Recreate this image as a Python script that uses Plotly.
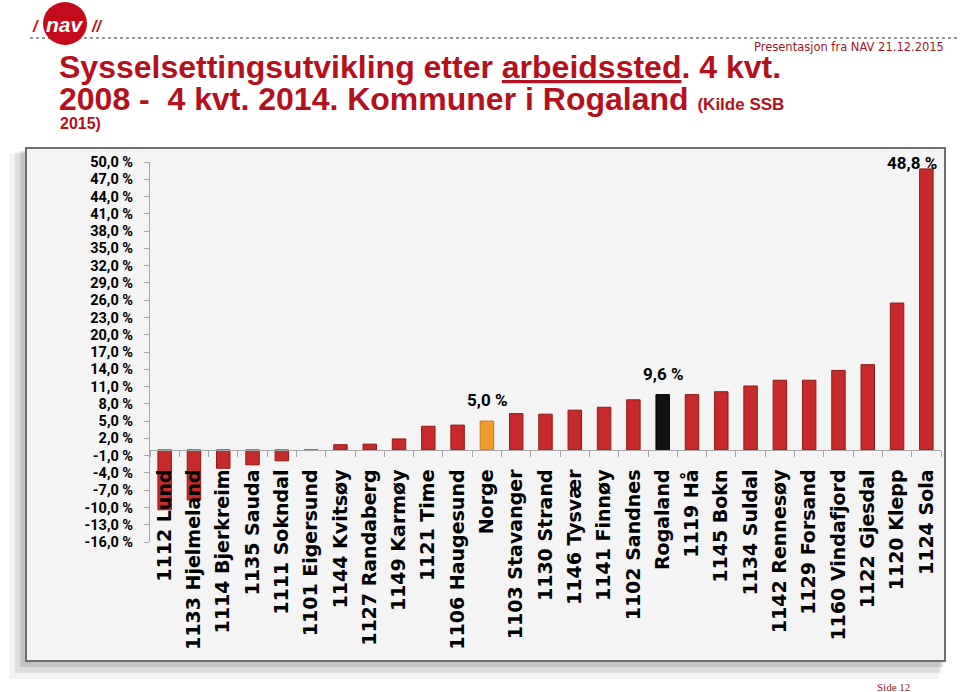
import plotly.graph_objects as go

# ---------------- data ----------------
categories = [
    "1112 Lund", "1133 Hjelmeland", "1114 Bjerkreim", "1135 Sauda", "1111 Sokndal",
    "1101 Eigersund", "1144 Kvitsøy", "1127 Randaberg", "1149 Karmøy", "1121 Time",
    "1106 Haugesund", "Norge", "1103 Stavanger", "1130 Strand", "1146 Tysvær",
    "1141 Finnøy", "1102 Sandnes", "Rogaland", "1119 Hå", "1145 Bokn",
    "1134 Suldal", "1142 Rennesøy", "1129 Forsand", "1160 Vindafjord", "1122 Gjesdal",
    "1120 Klepp", "1124 Sola",
]
values = [
    -10.4, -8.7, -3.2, -2.6, -1.9,
    -0.1, 0.9, 1.0, 1.9, 4.1,
    4.3, 5.0, 6.3, 6.2, 6.9,
    7.4, 8.7, 9.6, 9.6, 10.1,
    11.1, 12.1, 12.1, 13.8, 14.8,
    25.5, 48.8,
]
labelled = ["Norge", "Rogaland", "1124 Sola"]
y_tickvals = [50, 47, 44, 41, 38, 35, 32, 29, 26, 23, 20, 17, 14, 11, 8, 5, 2,
              -1, -4, -7, -10, -13, -16]
y_ticktext = [f"{v:.1f}".replace(".", ",") + " %" for v in y_tickvals]

# ---------------- geometry helpers (pixels -> paper) ----------------
W, H = 960, 692
L, R, T, B = 150, 941, 162, 542
def px(x):
    return (x - L) / (R - L)
def py(y):
    return (B - y) / (B - T)

RED = "#c62a2a"
colors = ["#f39a2e" if c == "Norge" else "#111111" if c == "Rogaland" else RED
          for c in categories]
lines = ["#c87416" if c == "Norge" else "#000000" if c == "Rogaland" else "#951818"
         for c in categories]

fig = go.Figure()
fig.add_trace(go.Bar(
    x=categories, y=values,
    marker=dict(color=colors, line=dict(color=lines, width=1)),
    width=0.46, hoverinfo="x+y",
))

ymin, ymax = -16, 50
zero_pos = (0 - ymin) / (ymax - ymin)

fig.update_layout(
    width=W, height=H,
    margin=dict(l=L, r=W - R, t=T, b=H - B, autoexpand=False),
    paper_bgcolor="white",
    plot_bgcolor="rgba(255,255,255,0.65)",
    showlegend=False,
    xaxis=dict(
        type="category", automargin=False,
        anchor="free", position=zero_pos,
        showline=True, linecolor="#a6a6a6", linewidth=1,
        ticks="outside", tickson="boundaries", ticklen=6, tickcolor="#a6a6a6",
        ticklabelstandoff=11,
        tickangle=-90,
        tickfont=dict(family="DejaVu Sans", size=19, color="black", weight="bold"),
        showgrid=False, zeroline=False,
        range=[-0.5, len(categories) - 0.5],
    ),
    yaxis=dict(
        range=[ymin, ymax], automargin=False,
        tickvals=y_tickvals, ticktext=y_ticktext,
        showline=True, linecolor="#a6a6a6", linewidth=1,
        ticks="outside", ticklen=5, tickcolor="#a6a6a6",
        ticklabelstandoff=8,
        tickfont=dict(family="Roboto", size=14.5, color="black", weight="bold"),
        showgrid=False, zeroline=False,
    ),
)

shapes = []
# chart frame shadow + frame
for off, op in [(12, 0.08), (8, 0.13), (4, 0.2)]:
    shapes.append(dict(type="rect", xref="paper", yref="paper", layer="below",
                       x0=px(26 - off * 1.4), x1=px(945 - off * 0.5),
                       y0=py(661 + off * 1.5), y1=py(150 + off * 0.3),
                       line=dict(width=0), fillcolor=f"rgba(90,90,90,{op})"))
shapes.append(dict(type="rect", xref="paper", yref="paper", layer="below",
                   x0=px(26), x1=px(945), y0=py(661), y1=py(148),
                   line=dict(color="#6e6e6e", width=2), fillcolor="#f4f4f4"))
# dotted header line
shapes.append(dict(type="line", xref="paper", yref="paper",
                   x0=px(30), x1=px(960), y0=py(38), y1=py(38),
                   line=dict(color="#9a9a9a", width=2, dash="dot")))
# NAV logo circle
shapes.append(dict(type="circle", xref="paper", yref="paper",
                   x0=px(43), x1=px(87), y0=py(45), y1=py(2),
                   line=dict(width=0), fillcolor="#c30b1c"))
fig.update_layout(shapes=shapes)

TITLE = "#b5101d"
def note(x, y, text, font, xanchor="center"):
    return dict(xref="paper", yref="paper", x=px(x), y=py(y), text=text,
                showarrow=False, xanchor=xanchor, yanchor="middle", font=font)

ann = [
    note(65, 24, "<b><i>nav</i></b>",
         dict(family="Liberation Sans", size=21, color="white")),
    note(35, 27, "<b><i>/</i></b>",
         dict(family="Liberation Sans", size=16, color="#c30b1c")),
    note(96, 27, "<b><i>//</i></b>",
         dict(family="Liberation Sans", size=16, color="#c30b1c")),
    note(946, 47, "Presentasjon fra NAV 21.12.2015",
         dict(family="DejaVu Sans", size=11.5, color="#a3142a"), "right"),
    note(57, 67, "<b>Sysselsettingsutvikling etter <u>arbeidssted</u>. 4 kvt.</b>",
         dict(family="Liberation Sans", size=32, color=TITLE), "left"),
    note(57, 99, "<b>2008 -  4 kvt. 2014. Kommuner i Rogaland </b>"
                 "<b><span style='font-size:17px'>(Kilde SSB</span></b>",
         dict(family="Liberation Sans", size=32, color=TITLE), "left"),
    note(58, 123, "<b>2015)</b>",
         dict(family="Liberation Sans", size=16, color=TITLE), "left"),
    note(893, 687, "Side 12",
         dict(family="Liberation Serif", size=11, color="#8b1a1a")),
]

# data labels
for c, v in zip(categories, values):
    if c in labelled:
        side = c == categories[-1]
        ann.append(dict(x=c, y=v, xref="x", yref="y",
                        text=f"{v:.1f}".replace(".", ",") + " %",
                        showarrow=False, yanchor="middle", xanchor="center",
                        xshift=-14 if side else 0, yshift=6 if side else 21,
                        font=dict(family="Roboto", size=17, color="black", weight="bold")))
fig.update_layout(annotations=ann)

fig.write_html("out.html", config={"displayModeBar": False},
               post_script="document.body.style.margin='0';document.body.style.overflow='hidden';")
